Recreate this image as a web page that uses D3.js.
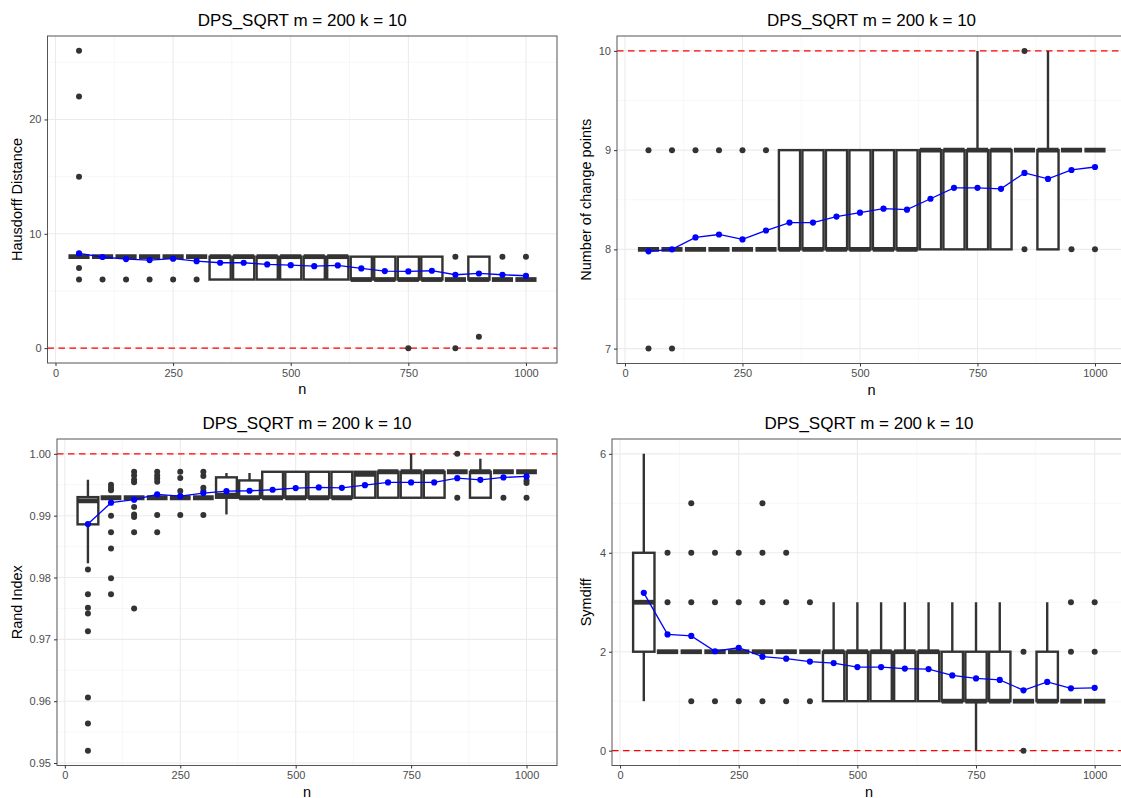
<!DOCTYPE html>
<html><head><meta charset="utf-8">
<script src="https://cdn.jsdelivr.net/npm/d3@7"></script>
<style>
body{margin:0;background:#fff}
svg{display:block}
text{font-family:"Liberation Sans",Arial,Helvetica,sans-serif}
</style></head>
<body><svg id="c" width="1121" height="798"></svg>
<script>
// ---------- data ----------
const nValues = [50,100,150,200,250,300,350,400,450,500,550,600,650,700,750,800,850,900,950,1000];
const xTicks = [0,250,500,750,1000];
const chartTitle = "DPS_SQRT m = 200 k = 10";

// Hausdorff distance
const hausLo  = [8,8,8,8,8,8,6,6,6,6,6,6,6,6,6,6,6,6,6,6];
const hausQ1  = [8,8,8,8,8,8,6,6,6,6,6,6,6,6,6,6,6,6,6,6];
const hausMed = [8,8,8,8,8,8,8,8,8,8,8,8,6,6,6,6,6,6,6,6];
const hausQ3  = [8,8,8,8,8,8,8,8,8,8,8,8,8,8,8,8,6,8,6,6];
const hausHi  = [8,8,8,8,8,8,8,8,8,8,8,8,8,8,8,8,6,8,6,6];
const hausOut = [[6,7,15,22,26],[6],[6],[6],[6],[6],[],[],[],[],[],[],[],[],[0],[],[0,8],[1],[8],[8]];
const hausMean = [8.28,7.97,7.79,7.70,7.82,7.61,7.47,7.47,7.32,7.26,7.17,7.23,6.97,6.74,6.71,6.77,6.42,6.53,6.42,6.33];
const hausTicks = [0,10,20];

// Number of change points
const ncpLo  = [8,8,8,8,8,8,8,8,8,8,8,8,8,8,8,8,9,8,9,9];
const ncpQ1  = [8,8,8,8,8,8,8,8,8,8,8,8,8,8,8,8,9,8,9,9];
const ncpMed = [8,8,8,8,8,8,8,8,8,8,8,8,9,9,9,9,9,9,9,9];
const ncpQ3  = [8,8,8,8,8,8,9,9,9,9,9,9,9,9,9,9,9,9,9,9];
const ncpHi  = [8,8,8,8,8,8,9,9,9,9,9,9,9,9,10,9,9,10,9,9];
const ncpOut = [[7,9],[7,9],[9],[9],[9],[9],[],[],[],[],[],[],[],[],[],[],[8,10],[],[8],[8]];
const ncpMean = [7.98,8.00,8.12,8.15,8.10,8.19,8.27,8.27,8.33,8.37,8.41,8.40,8.51,8.62,8.62,8.61,8.77,8.71,8.80,8.83];
const ncpTicks = [7,8,9,10];

// Rand index
const randLo  = [0.9823,0.9929,0.9929,0.9929,0.9929,0.9929,0.9902,0.9929,0.9929,0.9929,0.9929,0.9929,0.9929,0.9929,0.9929,0.9929,0.9971,0.9929,0.9971,0.9971];
const randQ1  = [0.9886,0.9929,0.9929,0.9929,0.9929,0.9929,0.9929,0.9929,0.9929,0.9929,0.9929,0.9929,0.9929,0.9929,0.9929,0.9929,0.9971,0.9929,0.9971,0.9971];
const randMed = [0.9924,0.9929,0.9929,0.9929,0.9929,0.9929,0.9933,0.9929,0.9929,0.9929,0.9929,0.9929,0.9967,0.9971,0.9971,0.9971,0.9971,0.9971,0.9971,0.9971];
const randQ3  = [0.9930,0.9929,0.9929,0.9929,0.9929,0.9929,0.9962,0.9957,0.9971,0.9971,0.9971,0.9971,0.9971,0.9971,0.9971,0.9971,0.9971,0.9971,0.9971,0.9971];
const randHi  = [0.9958,0.9929,0.9929,0.9929,0.9929,0.9929,0.9969,0.9969,0.9971,0.9971,0.9971,0.9971,0.9971,0.9971,1.0000,0.9971,0.9971,0.9992,0.9971,0.9971];
const randOut = [
  [0.9813,0.9773,0.9751,0.9742,0.9713,0.9606,0.9564,0.9520],
  [0.9950,0.9945,0.9941,0.9900,0.9873,0.9847,0.9799,0.9773],
  [0.9971,0.9965,0.9958,0.9954,0.9914,0.9902,0.9898,0.9873,0.9750],
  [0.9971,0.9965,0.9960,0.9955,0.9901,0.9873],
  [0.9971,0.9961,0.9940,0.9901],
  [0.9971,0.9964,0.9945,0.9940,0.9901],
  [],[],[],[],[],[],[],[],[],[],
  [1.0000,0.9929],[],[0.9929],[0.9957,0.9953,0.9929]];
const randMean = [0.98865,0.99210,0.99258,0.99344,0.99316,0.99365,0.99397,0.99403,0.99419,0.99446,0.99457,0.99451,0.99494,0.99537,0.99537,0.99537,0.99607,0.99580,0.99618,0.99634];
const randTicks = [0.95,0.96,0.97,0.98,0.99,1.00];

// Symdiff
const symLo  = [1,2,2,2,2,2,2,2,1,1,1,1,1,1,0,1,1,1,1,1];
const symQ1  = [2,2,2,2,2,2,2,2,1,1,1,1,1,1,1,1,1,1,1,1];
const symMed = [3,2,2,2,2,2,2,2,2,2,2,2,2,1,1,1,1,1,1,1];
const symQ3  = [4,2,2,2,2,2,2,2,2,2,2,2,2,2,2,2,1,2,1,1];
const symHi  = [6,2,2,2,2,2,2,2,3,3,3,3,3,3,3,3,1,3,1,1];
const symOut = [[],[3,4],[1,3,4,5],[1,3,4],[1,3,4],[1,3,4,5],[1,3,4],[1,3],[],[],[],[],[],[],[],[],[0,2],[],[2,3],[2,3]];
const symMean = [3.19,2.35,2.32,2.01,2.08,1.90,1.86,1.80,1.77,1.69,1.69,1.66,1.65,1.52,1.46,1.43,1.22,1.39,1.26,1.27];
const symTicks = [0,2,4,6];

// ---------- drawing ----------
const svg = d3.select("#c");
const DARK = "#333333";

function panel(cfg, id) {
  const x = d3.scaleLinear().domain([-17, 1066]).range([cfg.left, cfg.right]);
  const y = d3.scaleLinear().domain(cfg.yDomain).range([cfg.bottom, cfg.top]);
  const g = svg.append("g");
  const clipId = "clip" + id;
  svg.append("clipPath").attr("id", clipId).append("rect")
    .attr("x", cfg.left).attr("y", cfg.top)
    .attr("width", cfg.right - cfg.left).attr("height", cfg.bottom - cfg.top);
  const pg = g.append("g").attr("clip-path", `url(#${clipId})`);

  // minor grid
  const xMinor = xTicks.slice(0, -1).map((t, i) => (t + xTicks[i + 1]) / 2);
  const yMinor = cfg.yTicks.slice(0, -1).map((t, i) => (t + cfg.yTicks[i + 1]) / 2);
  if (cfg.extraMinor) yMinor.push(...cfg.extraMinor);
  pg.selectAll(".xmin").data(xMinor).join("line")
    .attr("x1", d => x(d)).attr("x2", d => x(d)).attr("y1", cfg.top).attr("y2", cfg.bottom)
    .attr("stroke", "#f2f2f2").attr("stroke-width", 0.6);
  pg.selectAll(".ymin").data(yMinor).join("line")
    .attr("y1", d => y(d)).attr("y2", d => y(d)).attr("x1", cfg.left).attr("x2", cfg.right)
    .attr("stroke", "#f2f2f2").attr("stroke-width", 0.6);
  // major grid
  pg.selectAll(".xmaj").data(xTicks).join("line")
    .attr("x1", d => x(d)).attr("x2", d => x(d)).attr("y1", cfg.top).attr("y2", cfg.bottom)
    .attr("stroke", "#ebebeb").attr("stroke-width", 1.1);
  pg.selectAll(".ymaj").data(cfg.yTicks).join("line")
    .attr("y1", d => y(d)).attr("y2", d => y(d)).attr("x1", cfg.left).attr("x2", cfg.right)
    .attr("stroke", "#ebebeb").attr("stroke-width", 1.1);

  // reference line
  pg.append("line").attr("x1", cfg.left).attr("x2", cfg.right)
    .attr("y1", y(cfg.ref)).attr("y2", y(cfg.ref))
    .attr("stroke", "red").attr("stroke-width", 1.2).attr("stroke-dasharray", "6.5,4.5");

  // boxplots
  const hw = x(22.5) - x(0);
  const boxes = nValues.map((n, i) => ({n, lo: cfg.lo[i], q1: cfg.q1[i], med: cfg.med[i], q3: cfg.q3[i], hi: cfg.hi[i], out: cfg.out[i]}));
  const bg = pg.append("g");
  boxes.forEach(b => {
    const cx = x(b.n);
    if (b.hi > b.q3) bg.append("line").attr("x1", cx).attr("x2", cx).attr("y1", y(b.q3)).attr("y2", y(b.hi))
      .attr("stroke", DARK).attr("stroke-width", 2.4);
    if (b.lo < b.q1) bg.append("line").attr("x1", cx).attr("x2", cx).attr("y1", y(b.q1)).attr("y2", y(b.lo))
      .attr("stroke", DARK).attr("stroke-width", 2.4);
    bg.append("rect").attr("x", cx - hw).attr("width", 2 * hw)
      .attr("y", y(b.q3)).attr("height", Math.max(0, y(b.q1) - y(b.q3)))
      .attr("fill", "white").attr("stroke", DARK).attr("stroke-width", 2.4);
    bg.append("line").attr("x1", cx - hw).attr("x2", cx + hw).attr("y1", y(b.med)).attr("y2", y(b.med))
      .attr("stroke", DARK).attr("stroke-width", 4.8);
    bg.selectAll(null).data(b.out).join("circle")
      .attr("cx", cx).attr("cy", d => y(d)).attr("r", 3).attr("fill", DARK);
  });

  // mean line + points
  const means = nValues.map((n, i) => [n, cfg.mean[i]]);
  pg.append("path").datum(means)
    .attr("d", d3.line().x(d => x(d[0])).y(d => y(d[1])))
    .attr("fill", "none").attr("stroke", "blue").attr("stroke-width", 1.3);
  pg.selectAll(".mp").data(means).join("circle")
    .attr("cx", d => x(d[0])).attr("cy", d => y(d[1])).attr("r", 3.1).attr("fill", "blue");

  // border
  g.append("rect").attr("x", cfg.left).attr("y", cfg.top)
    .attr("width", cfg.right - cfg.left).attr("height", cfg.bottom - cfg.top)
    .attr("fill", "none").attr("stroke", "#555").attr("stroke-width", 1);

  // axes
  const xa = g.append("g").attr("transform", `translate(0,${cfg.bottom})`)
    .call(d3.axisBottom(x).tickValues(xTicks).tickSize(3).tickPadding(3).tickFormat(d3.format("d")));
  const ya = g.append("g").attr("transform", `translate(${cfg.left},0)`)
    .call(d3.axisLeft(y).tickValues(cfg.yTicks).tickSize(3).tickPadding(3).tickFormat(cfg.fmt));
  [xa, ya].forEach(a => {
    a.select(".domain").remove();
    a.selectAll(".tick line").attr("stroke", DARK).attr("stroke-width", 1);
    a.selectAll(".tick text").attr("fill", "#4d4d4d").style("font-size", "11px")
      .style("font-family", '"Liberation Sans",Arial,sans-serif');
  });

  // titles
  g.append("text").attr("x", (cfg.left + cfg.right0) / 2).attr("y", cfg.top - 10)
    .attr("text-anchor", "middle").style("font-size", "17px").attr("fill", "black").text(chartTitle);
  g.append("text").attr("x", (cfg.left + cfg.right0) / 2).attr("y", cfg.bottom + 31)
    .attr("text-anchor", "middle").style("font-size", "14.5px").attr("fill", "black").text("n");
  g.append("text").attr("transform", `translate(${cfg.ytx},${(cfg.top + cfg.bottom) / 2}) rotate(-90)`)
    .attr("text-anchor", "middle").style("font-size", "14.5px").attr("fill", "black").text(cfg.ytitle);
}

panel({left: 47.5, right: 557, right0: 557, top: 36, bottom: 363, yDomain: [-1.3, 27.3], yTicks: hausTicks,
  extraMinor: [25], fmt: d3.format("d"), ref: 0, ytitle: "Hausdorff Distance", ytx: 22,
  lo: hausLo, q1: hausQ1, med: hausMed, q3: hausQ3, hi: hausHi, out: hausOut, mean: hausMean}, 1);
panel({left: 617, right: 1126, right0: 1126, top: 36, bottom: 363.5, yDomain: [6.85, 10.15], yTicks: ncpTicks,
  fmt: d3.format("d"), ref: 10, ytitle: "Number of change points", ytx: 591,
  lo: ncpLo, q1: ncpQ1, med: ncpMed, q3: ncpQ3, hi: ncpHi, out: ncpOut, mean: ncpMean}, 2);
panel({left: 57, right: 557, right0: 557, top: 439, bottom: 765.5, yDomain: [0.9496, 1.0024], yTicks: randTicks,
  fmt: d3.format(".2f"), ref: 1, ytitle: "Rand Index", ytx: 22,
  lo: randLo, q1: randQ1, med: randMed, q3: randQ3, hi: randHi, out: randOut, mean: randMean}, 3);
panel({left: 612, right: 1126, right0: 1126, top: 439, bottom: 765.5, yDomain: [-0.3, 6.3], yTicks: symTicks,
  fmt: d3.format("d"), ref: 0, ytitle: "Symdiff", ytx: 591,
  lo: symLo, q1: symQ1, med: symMed, q3: symQ3, hi: symHi, out: symOut, mean: symMean}, 4);
</script></body></html>
